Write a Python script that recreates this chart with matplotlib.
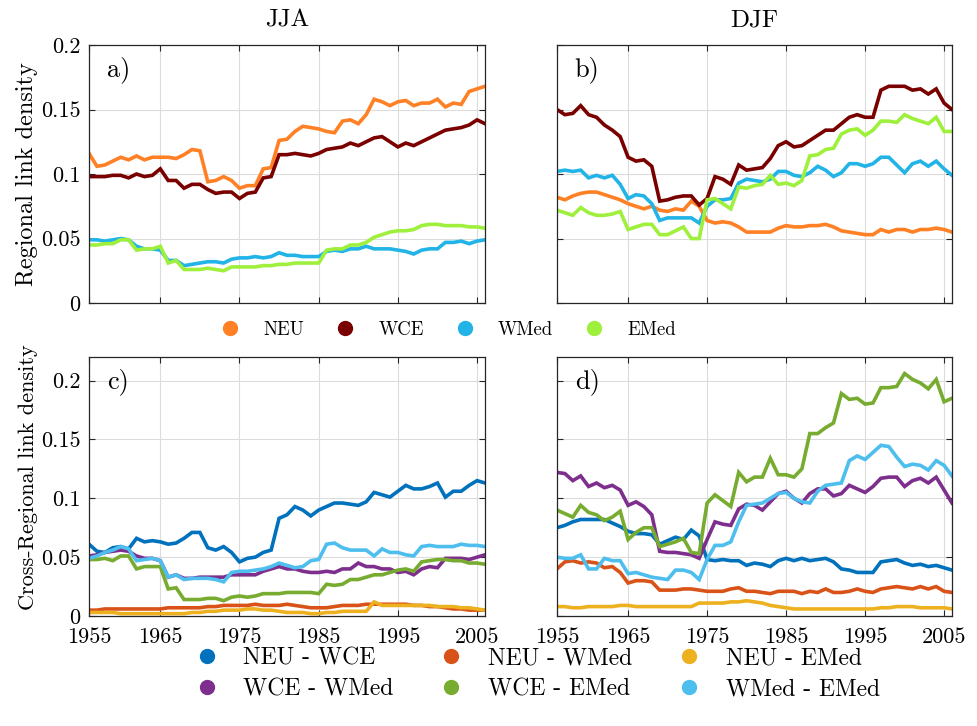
import numpy as np
import matplotlib
matplotlib.use("Agg")
import matplotlib.pyplot as plt
from matplotlib.lines import Line2D

plt.rcParams["font.family"] = "cmr10"
plt.rcParams["mathtext.fontset"] = "cm"
plt.rcParams["axes.formatter.use_mathtext"] = True

years = np.arange(1956, 2007)
xticks = [1956, 1965, 1975, 1985, 1995, 2005]
xticklabels = ["1955", "1965", "1975", "1985", "1995", "2005"]

regions = ["NEU", "WCE", "WMed", "EMed"]
region_colors = ["#FF8025", "#7A0000", "#22B4E6", "#9EF03C"]

pairs = ["NEU - WCE", "NEU - WMed", "NEU - EMed", "WCE - WMed", "WCE - EMed", "WMed - EMed"]
pair_colors = ["#0072BD", "#D95319", "#EDB120", "#7E2F8E", "#77AC30", "#4DBEEE"]

# regional link density, summer
jja_neu = [0.116, 0.106, 0.107, 0.110, 0.113, 0.111, 0.114, 0.111, 0.113, 0.113,
           0.113, 0.112, 0.115, 0.119, 0.118, 0.094, 0.095, 0.098, 0.095, 0.089,
           0.091, 0.091, 0.104, 0.105, 0.126, 0.127, 0.133, 0.137, 0.136, 0.135,
           0.133, 0.132, 0.141, 0.142, 0.139, 0.146, 0.158, 0.156, 0.153, 0.156,
           0.157, 0.153, 0.155, 0.155, 0.158, 0.152, 0.155, 0.154, 0.164, 0.166, 0.168]
jja_wce = [0.098, 0.098, 0.098, 0.099, 0.099, 0.097, 0.100, 0.098, 0.099, 0.104,
           0.095, 0.095, 0.089, 0.092, 0.092, 0.088, 0.085, 0.086, 0.086, 0.081,
           0.085, 0.086, 0.097, 0.098, 0.115, 0.115, 0.116, 0.115, 0.114, 0.116,
           0.119, 0.120, 0.121, 0.124, 0.122, 0.125, 0.128, 0.129, 0.125, 0.121,
           0.124, 0.122, 0.125, 0.128, 0.131, 0.134, 0.135, 0.136, 0.138, 0.142, 0.139]
jja_wmed = [0.049, 0.049, 0.048, 0.049, 0.050, 0.049, 0.044, 0.042, 0.042, 0.041,
            0.033, 0.033, 0.029, 0.030, 0.031, 0.032, 0.032, 0.031, 0.034, 0.035,
            0.035, 0.036, 0.035, 0.036, 0.039, 0.037, 0.037, 0.036, 0.036, 0.036,
            0.040, 0.041, 0.040, 0.042, 0.042, 0.044, 0.042, 0.042, 0.042, 0.041,
            0.040, 0.038, 0.041, 0.042, 0.042, 0.047, 0.047, 0.048, 0.046, 0.048, 0.049]
jja_emed = [0.045, 0.045, 0.046, 0.046, 0.049, 0.049, 0.041, 0.042, 0.042, 0.044,
            0.031, 0.033, 0.026, 0.026, 0.026, 0.027, 0.026, 0.025, 0.028, 0.028,
            0.028, 0.028, 0.029, 0.029, 0.030, 0.030, 0.031, 0.031, 0.031, 0.031,
            0.041, 0.042, 0.042, 0.045, 0.045, 0.047, 0.051, 0.053, 0.055, 0.056,
            0.056, 0.057, 0.060, 0.061, 0.061, 0.060, 0.060, 0.060, 0.059, 0.059, 0.058]

# regional link density, winter
djf_neu = [0.082, 0.080, 0.083, 0.085, 0.086, 0.086, 0.084, 0.082, 0.080, 0.077,
           0.075, 0.073, 0.075, 0.072, 0.071, 0.073, 0.072, 0.079, 0.075, 0.064,
           0.062, 0.063, 0.062, 0.059, 0.055, 0.055, 0.055, 0.055, 0.058, 0.060,
           0.059, 0.059, 0.060, 0.060, 0.061, 0.059, 0.056, 0.055, 0.054, 0.053,
           0.053, 0.057, 0.055, 0.057, 0.057, 0.055, 0.057, 0.057, 0.058, 0.057, 0.055]
djf_wce = [0.150, 0.146, 0.147, 0.153, 0.146, 0.144, 0.138, 0.134, 0.129, 0.113,
           0.110, 0.111, 0.106, 0.079, 0.080, 0.082, 0.083, 0.083, 0.076, 0.081,
           0.098, 0.096, 0.092, 0.107, 0.103, 0.104, 0.105, 0.112, 0.122, 0.125,
           0.121, 0.122, 0.126, 0.130, 0.134, 0.134, 0.139, 0.144, 0.146, 0.144,
           0.144, 0.165, 0.168, 0.168, 0.168, 0.165, 0.166, 0.162, 0.166, 0.155, 0.150]
djf_wmed = [0.102, 0.103, 0.102, 0.103, 0.097, 0.099, 0.097, 0.099, 0.092, 0.081,
            0.084, 0.083, 0.077, 0.064, 0.066, 0.066, 0.066, 0.066, 0.062, 0.075,
            0.080, 0.080, 0.081, 0.093, 0.096, 0.095, 0.094, 0.096, 0.102, 0.102,
            0.099, 0.098, 0.101, 0.106, 0.103, 0.098, 0.101, 0.108, 0.108, 0.106,
            0.108, 0.113, 0.113, 0.107, 0.101, 0.108, 0.110, 0.106, 0.110, 0.104, 0.099]
djf_emed = [0.072, 0.070, 0.068, 0.074, 0.070, 0.068, 0.068, 0.069, 0.071, 0.057,
            0.059, 0.061, 0.061, 0.053, 0.053, 0.056, 0.059, 0.050, 0.050, 0.080,
            0.081, 0.077, 0.073, 0.090, 0.089, 0.091, 0.092, 0.099, 0.092, 0.093,
            0.091, 0.095, 0.114, 0.115, 0.119, 0.120, 0.131, 0.134, 0.135, 0.130,
            0.134, 0.141, 0.141, 0.140, 0.146, 0.143, 0.141, 0.139, 0.144, 0.133, 0.133]

# cross-regional link density, summer
jja_neu_wce = [0.061, 0.055, 0.054, 0.058, 0.059, 0.057, 0.066, 0.063, 0.064, 0.063,
               0.061, 0.062, 0.066, 0.071, 0.071, 0.058, 0.056, 0.059, 0.054, 0.046,
               0.049, 0.050, 0.054, 0.056, 0.083, 0.086, 0.093, 0.090, 0.085, 0.090,
               0.093, 0.096, 0.096, 0.095, 0.094, 0.097, 0.105, 0.103, 0.101, 0.106,
               0.111, 0.108, 0.108, 0.110, 0.113, 0.101, 0.106, 0.106, 0.111, 0.115, 0.113]
jja_neu_wmed = [0.005, 0.005, 0.006, 0.006, 0.006, 0.006, 0.006, 0.006, 0.006, 0.006,
                0.007, 0.007, 0.007, 0.007, 0.007, 0.008, 0.008, 0.009, 0.009, 0.009,
                0.009, 0.010, 0.009, 0.009, 0.009, 0.010, 0.009, 0.008, 0.007, 0.007,
                0.007, 0.008, 0.009, 0.009, 0.009, 0.010, 0.010, 0.010, 0.010, 0.010,
                0.010, 0.009, 0.009, 0.008, 0.008, 0.007, 0.006, 0.006, 0.005, 0.005, 0.005]
jja_neu_emed = [0.003, 0.003, 0.003, 0.003, 0.002, 0.002, 0.002, 0.002, 0.002, 0.002,
                0.002, 0.002, 0.002, 0.003, 0.003, 0.004, 0.004, 0.005, 0.005, 0.005,
                0.006, 0.006, 0.005, 0.005, 0.004, 0.003, 0.003, 0.003, 0.002, 0.002,
                0.003, 0.003, 0.004, 0.004, 0.004, 0.004, 0.012, 0.009, 0.009, 0.009,
                0.009, 0.009, 0.009, 0.009, 0.008, 0.008, 0.008, 0.007, 0.007, 0.006, 0.005]
jja_wce_wmed = [0.051, 0.052, 0.054, 0.055, 0.056, 0.055, 0.051, 0.049, 0.049, 0.047,
                0.033, 0.035, 0.032, 0.032, 0.033, 0.033, 0.033, 0.033, 0.035, 0.035,
                0.035, 0.035, 0.038, 0.040, 0.042, 0.040, 0.040, 0.038, 0.037, 0.037,
                0.038, 0.037, 0.040, 0.040, 0.045, 0.042, 0.042, 0.040, 0.040, 0.037,
                0.038, 0.035, 0.040, 0.042, 0.041, 0.049, 0.049, 0.049, 0.048, 0.050, 0.052]
jja_wce_emed = [0.048, 0.048, 0.049, 0.047, 0.051, 0.051, 0.040, 0.042, 0.042, 0.042,
                0.023, 0.024, 0.014, 0.014, 0.014, 0.015, 0.015, 0.013, 0.016, 0.017,
                0.016, 0.017, 0.019, 0.019, 0.019, 0.020, 0.020, 0.020, 0.020, 0.019,
                0.027, 0.026, 0.027, 0.031, 0.031, 0.033, 0.035, 0.035, 0.037, 0.039,
                0.040, 0.038, 0.046, 0.047, 0.048, 0.048, 0.047, 0.047, 0.045, 0.045, 0.044]
jja_wmed_emed = [0.049, 0.051, 0.054, 0.056, 0.059, 0.057, 0.047, 0.048, 0.049, 0.047,
                 0.033, 0.035, 0.031, 0.032, 0.032, 0.032, 0.031, 0.029, 0.037, 0.038,
                 0.038, 0.039, 0.040, 0.042, 0.045, 0.043, 0.041, 0.042, 0.047, 0.048,
                 0.061, 0.062, 0.058, 0.056, 0.056, 0.056, 0.051, 0.057, 0.054, 0.054,
                 0.052, 0.051, 0.059, 0.060, 0.059, 0.059, 0.059, 0.061, 0.060, 0.060, 0.059]

# cross-regional link density, winter
djf_neu_wce = [0.075, 0.077, 0.080, 0.082, 0.082, 0.082, 0.082, 0.079, 0.076, 0.072,
               0.070, 0.070, 0.069, 0.061, 0.064, 0.067, 0.065, 0.073, 0.068, 0.048,
               0.047, 0.048, 0.047, 0.047, 0.043, 0.045, 0.044, 0.042, 0.047, 0.049,
               0.047, 0.049, 0.047, 0.048, 0.049, 0.046, 0.040, 0.039, 0.037, 0.037,
               0.037, 0.046, 0.047, 0.048, 0.045, 0.043, 0.044, 0.042, 0.043, 0.041, 0.039]
djf_neu_wmed = [0.040, 0.046, 0.047, 0.045, 0.046, 0.045, 0.041, 0.042, 0.037, 0.028,
                0.030, 0.030, 0.029, 0.022, 0.022, 0.022, 0.023, 0.023, 0.022, 0.021,
                0.021, 0.021, 0.023, 0.024, 0.021, 0.021, 0.020, 0.019, 0.021, 0.021,
                0.021, 0.019, 0.021, 0.020, 0.023, 0.020, 0.020, 0.021, 0.023, 0.021,
                0.020, 0.023, 0.024, 0.025, 0.024, 0.023, 0.025, 0.023, 0.025, 0.021, 0.020]
djf_neu_emed = [0.008, 0.008, 0.007, 0.007, 0.008, 0.008, 0.008, 0.008, 0.009, 0.009,
                0.008, 0.008, 0.008, 0.008, 0.008, 0.008, 0.008, 0.008, 0.011, 0.011,
                0.011, 0.011, 0.012, 0.012, 0.013, 0.012, 0.011, 0.009, 0.008, 0.007,
                0.006, 0.006, 0.006, 0.006, 0.006, 0.006, 0.006, 0.006, 0.006, 0.006,
                0.006, 0.007, 0.007, 0.008, 0.008, 0.008, 0.007, 0.007, 0.007, 0.007, 0.006]
djf_wce_wmed = [0.122, 0.121, 0.115, 0.119, 0.110, 0.113, 0.109, 0.111, 0.107, 0.094,
                0.097, 0.093, 0.086, 0.055, 0.054, 0.054, 0.053, 0.052, 0.049, 0.065,
                0.080, 0.078, 0.077, 0.091, 0.095, 0.094, 0.090, 0.097, 0.104, 0.106,
                0.100, 0.096, 0.104, 0.108, 0.108, 0.102, 0.104, 0.111, 0.108, 0.105,
                0.110, 0.117, 0.118, 0.118, 0.110, 0.115, 0.117, 0.113, 0.118, 0.107, 0.096]
djf_wce_emed = [0.090, 0.087, 0.084, 0.094, 0.088, 0.086, 0.081, 0.084, 0.089, 0.065,
                0.071, 0.075, 0.075, 0.059, 0.061, 0.063, 0.066, 0.054, 0.053, 0.096,
                0.103, 0.098, 0.093, 0.122, 0.114, 0.118, 0.118, 0.134, 0.120, 0.120,
                0.118, 0.125, 0.155, 0.155, 0.160, 0.164, 0.189, 0.184, 0.185, 0.180,
                0.181, 0.194, 0.194, 0.195, 0.206, 0.201, 0.198, 0.193, 0.201, 0.182, 0.185]
djf_wmed_emed = [0.050, 0.049, 0.049, 0.052, 0.040, 0.040, 0.049, 0.047, 0.047, 0.036,
                 0.037, 0.035, 0.033, 0.032, 0.031, 0.039, 0.039, 0.037, 0.031, 0.048,
                 0.060, 0.060, 0.063, 0.080, 0.094, 0.095, 0.096, 0.100, 0.104, 0.105,
                 0.100, 0.097, 0.096, 0.106, 0.111, 0.112, 0.113, 0.132, 0.136, 0.133,
                 0.139, 0.145, 0.144, 0.135, 0.127, 0.129, 0.128, 0.124, 0.132, 0.128, 0.119]

fs = 16
lw = 2.6

fig = plt.figure(figsize=(9.77, 7.26), dpi=100)
ax_a = fig.add_axes([0.0911, 0.5826, 0.4053, 0.3554])
ax_b = fig.add_axes([0.5701, 0.5826, 0.4043, 0.3554])
ax_c = fig.add_axes([0.0911, 0.1515, 0.4053, 0.3567])
ax_d = fig.add_axes([0.5701, 0.1515, 0.4043, 0.3567])


def style(ax, ymax, yticks, ylabels, xlabels, tag):
    ax.set_xlim(1956, 2006)
    ax.set_ylim(0, ymax)
    ax.set_xticks(xticks)
    ax.set_xticklabels(xticklabels if xlabels else [])
    ax.set_yticks(yticks)
    ax.set_yticklabels(ylabels if ylabels else [])
    ax.grid(True, color="#dcdcdc", linewidth=0.8)
    ax.set_axisbelow(True)
    ax.tick_params(direction="in", length=4, width=0.8, top=True, right=True,
                   labelsize=fs, color="#262626")
    ax.tick_params(axis="x", pad=8)
    ax.tick_params(axis="y", pad=6)
    for sp in ax.spines.values():
        sp.set_color("#262626")
        sp.set_linewidth(0.9)
    ax.text(0.045, 0.955, tag, transform=ax.transAxes, fontsize=19,
            ha="left", va="top")


top_ticks = [0, 0.05, 0.1, 0.15, 0.2]
top_labels = ["0", "0.05", "0.1", "0.15", "0.2"]

for ax, series in [(ax_a, [jja_neu, jja_wce, jja_wmed, jja_emed]),
                   (ax_b, [djf_neu, djf_wce, djf_wmed, djf_emed])]:
    for vals, col in zip(series, region_colors):
        ax.plot(years, vals, color=col, linewidth=lw, solid_joinstyle="miter")

for ax, series in [(ax_c, [jja_neu_wce, jja_neu_wmed, jja_neu_emed,
                           jja_wce_wmed, jja_wce_emed, jja_wmed_emed]),
                   (ax_d, [djf_neu_wce, djf_neu_wmed, djf_neu_emed,
                           djf_wce_wmed, djf_wce_emed, djf_wmed_emed])]:
    for vals, col in zip(series, pair_colors):
        ax.plot(years, vals, color=col, linewidth=lw, solid_joinstyle="miter")

style(ax_a, 0.2, top_ticks, top_labels, False, "a)")
style(ax_b, 0.2, top_ticks, None, False, "b)")
style(ax_c, 0.22, top_ticks, top_labels, True, "c)")
style(ax_d, 0.22, top_ticks, None, True, "d)")

ax_a.set_title("JJA", fontsize=18, pad=13)
ax_b.set_title("DJF", fontsize=18, pad=13)
ax_a.set_ylabel("Regional link density", fontsize=17.5)
ax_c.set_ylabel("Cross-Regional link density", fontsize=16)
ax_a.yaxis.set_label_coords(-0.128, 0.5)
ax_c.yaxis.set_label_coords(-0.13, 0.535)

# legends built from dot markers
reg_handles = [Line2D([], [], linestyle="none", marker="o", markersize=10,
                      markerfacecolor=c, markeredgecolor=c) for c in region_colors]
fig.legend(reg_handles, regions, loc="center", bbox_to_anchor=(0.459, 0.546),
           ncol=4, frameon=False, fontsize=13.5, handlelength=1.0,
           handletextpad=1.26, columnspacing=1.69)

order = [0, 3, 1, 4, 2, 5]
pair_handles = [Line2D([], [], linestyle="none", marker="o", markersize=10,
                       markerfacecolor=pair_colors[i], markeredgecolor=pair_colors[i])
                for i in order]
fig.legend(pair_handles, [pairs[i] for i in order], loc="center",
           bbox_to_anchor=(0.550, 0.072), ncol=3, frameon=False, fontsize=17,
           handlelength=1.0, handletextpad=1.05, columnspacing=1.92,
           labelspacing=0.37)

fig.savefig("out.png", dpi=100)
